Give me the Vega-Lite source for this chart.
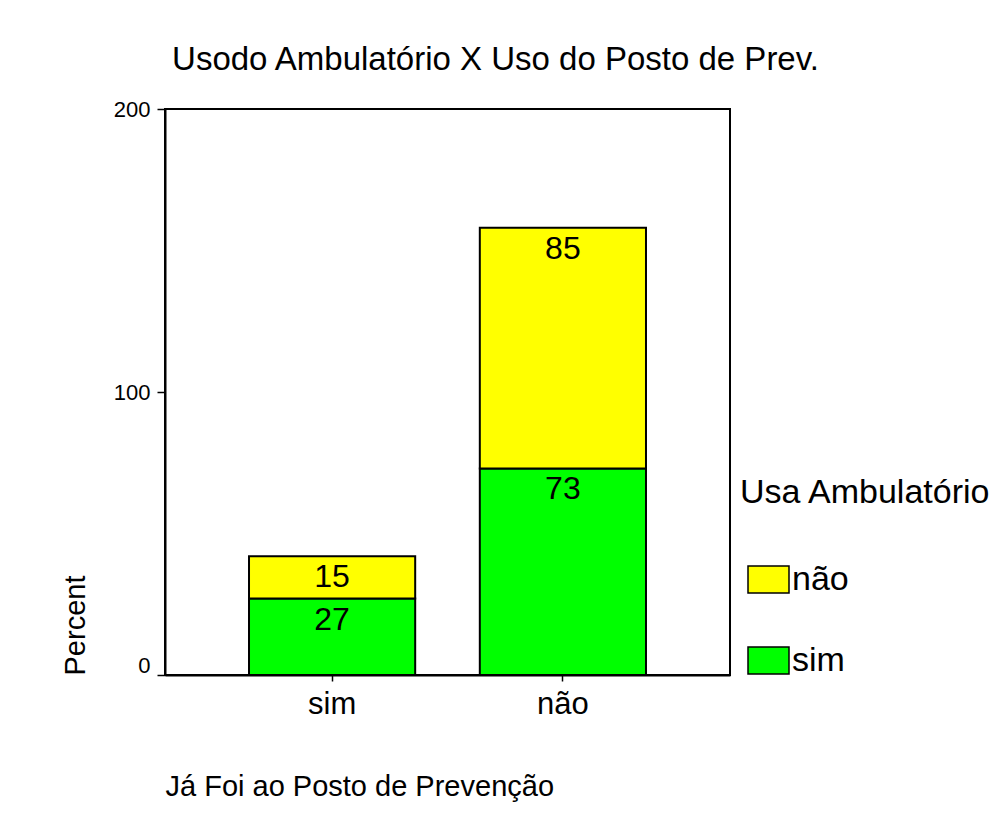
{
  "$schema": "https://vega.github.io/schema/vega-lite/v6.json",
  "autosize": {"type": "none"},
  "padding": {"left": 165, "top": 109, "right": 273, "bottom": 139},
  "width": 565,
  "height": 566,
  "background": "white",
  "title": {
    "text": "Usodo Ambulatório X Uso do Posto de Prev.",
    "fontSize": 33,
    "fontWeight": "normal",
    "color": "black",
    "anchor": "middle",
    "frame": "group",
    "dx": 48,
    "baseline": "alphabetic",
    "offset": -5
  },
  "data": {
    "values": [
      {"posto": "sim", "amb": "sim", "pct": 27},
      {"posto": "sim", "amb": "não", "pct": 15},
      {"posto": "não", "amb": "sim", "pct": 73},
      {"posto": "não", "amb": "não", "pct": 85}
    ]
  },
  "encoding": {
    "x": {
      "field": "posto",
      "type": "nominal",
      "sort": ["sim", "não"],
      "scale": {"paddingInner": 0.28, "paddingOuter": 0.364},
      "axis": {
        "title": "Já Foi ao Posto de Prevenção",
        "titleFontSize": 29,
        "titleFontWeight": "normal",
        "titleColor": "black",
        "titleAnchor": "start",
        "titleAlign": "left",
        "titleBaseline": "alphabetic",
        "titleX": 0,
        "titleY": 120,
        "labelFontSize": 31,
        "labelColor": "black",
        "labelAngle": 0,
        "labelBaseline": "alphabetic",
        "labelPadding": 32,
        "tickSize": 6,
        "tickColor": "black",
        "tickWidth": 1.5,
        "domainColor": "black",
        "domainWidth": 2
      }
    },
    "y": {
      "field": "pct",
      "type": "quantitative",
      "stack": "zero",
      "scale": {"domain": [0, 200], "nice": false},
      "axis": {
        "values": [0, 100, 200],
        "grid": false,
        "title": "Percent",
        "titleFontSize": 29,
        "titleFontWeight": "normal",
        "titleColor": "black",
        "titleAngle": 270,
        "titleAlign": "left",
        "titleBaseline": "alphabetic",
        "titleX": -81,
        "titleY": 566,
        "labelFontSize": 22,
        "labelColor": "black",
        "labelPadding": 7,
        "labelBaseline": "middle",
        "labelOffset": {"condition": {"test": "datum.value === 0", "value": -10}, "value": 0},
        "tickSize": 8,
        "tickColor": "black",
        "tickWidth": 1.5,
        "domainColor": "black",
        "domainWidth": 2
      }
    },
    "order": {"field": "amb", "sort": "descending"}
  },
  "layer": [
    {
      "mark": {"type": "bar", "stroke": "black", "strokeWidth": 2},
      "encoding": {
        "color": {
          "field": "amb",
          "type": "nominal",
          "scale": {"domain": ["não", "sim"], "range": ["#FFFF00", "#00FF00"]},
          "legend": {
            "orient": "none",
            "legendX": 575,
            "legendY": 367,
            "title": "Usa Ambulatório",
            "titleFontSize": 34,
            "titleFontWeight": "normal",
            "titleColor": "black",
            "titleLimit": 400,
            "titlePadding": 48,
            "labelFontSize": 34,
            "labelColor": "black",
            "labelLimit": 200,
            "labelOffset": 2,
            "symbolType": "M-1,-0.66L1,-0.66L1,0.66L-1,0.66Z",
            "symbolSize": 1681,
            "symbolStrokeColor": "black",
            "symbolStrokeWidth": 1.5,
            "symbolFillOpacity": 1,
            "symbolOffset": 7,
            "rowPadding": 42,
            "padding": 0
          }
        }
      }
    },
    {
      "mark": {"type": "text", "fontSize": 32, "baseline": "alphabetic", "dy": 31, "color": "black"},
      "encoding": {
        "detail": {"field": "amb", "type": "nominal"},
        "text": {"field": "pct", "type": "quantitative"}
      }
    }
  ],
  "config": {
    "font": "Liberation Sans",
    "view": {"stroke": "black", "strokeWidth": 2}
  }
}
